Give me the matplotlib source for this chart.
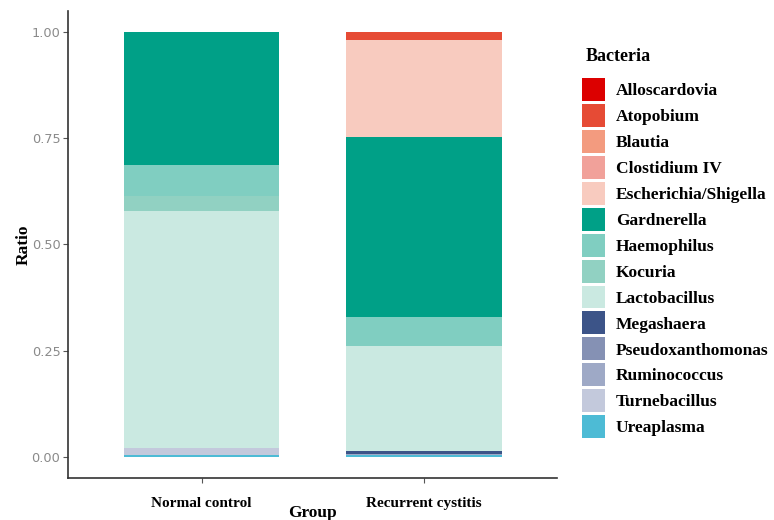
import matplotlib.pyplot as plt
from matplotlib.patches import Patch

# Groups and relative abundance of each genus (bottom of stack first)
groups = ["Normal control", "Recurrent cystitis"]
bacteria = ["Ureaplasma", "Turnebacillus", "Ruminococcus", "Pseudoxanthomonas",
            "Megashaera", "Lactobacillus", "Kocuria", "Haemophilus", "Gardnerella",
            "Escherichia/Shigella", "Clostidium IV", "Blautia", "Atopobium",
            "Alloscardovia"]
ureaplasma = [0.003, 0.003]
turnebacillus = [0.017, 0.0]
ruminococcus = [0.0, 0.004]
pseudoxanthomonas = [0.0, 0.0]
megashaera = [0.0, 0.007]
lactobacillus = [0.558, 0.247]
kocuria = [0.037, 0.0]
haemophilus = [0.072, 0.067]
gardnerella = [0.313, 0.426]
escherichia = [0.0, 0.227]
clostidium = [0.0, 0.0]
blautia = [0.0, 0.0]
atopobium = [0.0, 0.019]
alloscardovia = [0.0, 0.0]

values = [ureaplasma, turnebacillus, ruminococcus, pseudoxanthomonas, megashaera,
          lactobacillus, kocuria, haemophilus, gardnerella, escherichia,
          clostidium, blautia, atopobium, alloscardovia]
colors = ["#4DBBD5", "#C3C9DC", "#9EA9C6", "#8591B4", "#3C5488",
          "#CAE9E1", "#91D1C2", "#80CEC1", "#00A087", "#F8CBBF",
          "#F1A19A", "#F39B7F", "#E64B35", "#DC0000"]

plt.rcParams['font.family'] = ['Liberation Serif', 'DejaVu Serif']

fig = plt.figure(figsize=(7.74, 5.2), dpi=100)
ax = fig.add_axes([0.088, 0.081, 0.632, 0.898])

x = range(len(groups))
bottom = [0.0, 0.0]
for name, vals, col in zip(bacteria, values, colors):
    ax.bar(x, vals, width=0.7, bottom=bottom, color=col, linewidth=0)
    bottom = [b + v for b, v in zip(bottom, vals)]

ax.set_xlim(-0.6, 1.6)
ax.set_ylim(-0.05, 1.05)
ax.set_yticks([0, 0.25, 0.5, 0.75, 1.0])
ax.set_yticklabels(["0.00", "0.25", "0.50", "0.75", "1.00"],
                   family='DejaVu Sans', fontsize=9.3, color='#8a8a8a')
ax.set_xticks(list(x))
ax.set_xticklabels(groups, fontsize=11, fontweight='bold', color='black')
ax.tick_params(axis='both', length=3.5, width=0.8, color='#555555')
ax.tick_params(axis='y', pad=2)
ax.tick_params(axis='x', pad=10)

for side in ['top', 'right']:
    ax.spines[side].set_visible(False)
for side in ['left', 'bottom']:
    ax.spines[side].set_color('#333333')
    ax.spines[side].set_linewidth(1.2)

ax.set_ylabel("Ratio", fontsize=12.5, fontweight='bold', labelpad=0)
ax.set_xlabel("Group", fontsize=12.5, fontweight='bold', labelpad=-3)

# Legend in the ggplot order (first level on top)
fig.text(0.757, 1 - 56 / 520, "Bacteria", fontsize=13, fontweight='bold', va='center')
handles = [Patch(facecolor=c, edgecolor='none', label=n)
           for n, c in zip(bacteria[::-1], colors[::-1])]
leg = fig.legend(handles=handles, loc='upper left', bbox_to_anchor=(0.752, 1 - 78 / 520),
                 frameon=False, prop={'weight': 'bold', 'size': 12.5},
                 handlelength=1.32, handleheight=1.66, labelspacing=0.17,
                 handletextpad=0.63, borderpad=0, borderaxespad=0)

fig.savefig("out.png", dpi=100)
